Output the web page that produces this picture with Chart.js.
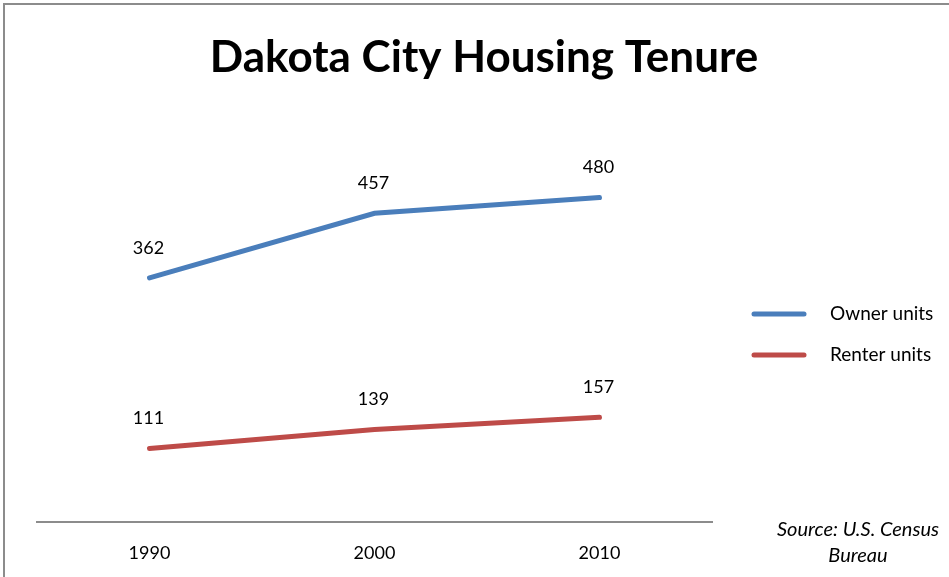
<!DOCTYPE html>
<html>
<head>
<meta charset="utf-8">
<script src="https://cdn.jsdelivr.net/npm/chart.js@4/dist/chart.umd.min.js"></script>
<style>
  html, body { margin: 0; padding: 0; background: #fff; }
  #wrap { width: 949px; height: 577px; position: relative; }
</style>
</head>
<body>
<div id="wrap"><canvas id="fig_container" width="949" height="577"></canvas></div>
<script>
const years = ["1990", "2000", "2010"];
const owner_units = [362, 457, 480];
const renter_units = [111, 139, 157];
const series_names = ["Owner units", "Renter units"];
const title_text = "Dakota City Housing Tenure";
const source_lines = ["Source: U.S. Census", "Bureau"];

const FONT = "Lato, 'Open Sans', sans-serif";

// frame + title + source note
const decor = {
    id: 'decor',
    beforeDraw: (chart) => {
        const ctx = chart.ctx;
        ctx.save();
        ctx.fillStyle = '#fff';
        ctx.fillRect(0, 0, chart.width, chart.height);
        ctx.strokeStyle = '#8c8c8c';
        ctx.lineWidth = 2;
        ctx.beginPath();
        ctx.moveTo(4, chart.height);
        ctx.lineTo(4, 4);
        ctx.lineTo(chart.width, 4);
        ctx.stroke();
        ctx.restore();
    },
    afterDraw: (chart) => {
        const ctx = chart.ctx;
        ctx.save();
        ctx.fillStyle = '#000';
        ctx.textAlign = 'center';
        ctx.textBaseline = 'middle';
        ctx.font = "bold 44px " + FONT;
        ctx.fillText(title_text, 484, 58);
        ctx.font = "italic 20px " + FONT;
        ctx.fillText(source_lines[0], 858, 530);
        ctx.fillText(source_lines[1], 858, 556);
        ctx.restore();
    }
};

// value labels above each point
const valueLabels = {
    id: 'valueLabels',
    afterDatasetsDraw: (chart) => {
        const ctx = chart.ctx;
        ctx.save();
        ctx.fillStyle = '#000';
        ctx.font = "18px " + FONT;
        ctx.textAlign = 'center';
        ctx.textBaseline = 'middle';
        chart.data.datasets.forEach((ds, i) => {
            chart.getDatasetMeta(i).data.forEach((pt, j) => {
                ctx.fillText(String(ds.data[j]), pt.x - 1, pt.y - 30);
            });
        });
        ctx.restore();
    }
};

// legend on the right, line swatches
const sideLegend = {
    id: 'sideLegend',
    afterDraw: (chart) => {
        const ctx = chart.ctx;
        ctx.save();
        ctx.font = "19px " + FONT;
        ctx.textBaseline = 'middle';
        ctx.textAlign = 'left';
        chart.data.datasets.forEach((ds, i) => {
            const y = 314 + i * 41;
            ctx.strokeStyle = ds.borderColor;
            ctx.lineWidth = 5;
            ctx.lineCap = 'round';
            ctx.beginPath();
            ctx.moveTo(754, y);
            ctx.lineTo(804, y);
            ctx.stroke();
            ctx.fillStyle = '#000';
            ctx.fillText(ds.label, 830, y);
        });
        ctx.restore();
    }
};

const ctx = document.getElementById('fig_container').getContext('2d');
const LineChart = new Chart(ctx, {
    type: 'line',
    data: {
        labels: years,
        datasets: [{
            label: series_names[0],
            data: owner_units,
            borderColor: '#4a7ebb',
            borderWidth: 5,
            pointRadius: 0,
            tension: 0,
            borderCapStyle: 'round'
        }, {
            label: series_names[1],
            data: renter_units,
            borderColor: '#be4b48',
            borderWidth: 5,
            pointRadius: 0,
            tension: 0,
            borderCapStyle: 'round'
        }]
    },
    options: {
        responsive: false,
        animation: false,
        layout: { padding: { left: 37, right: 237, top: 116, bottom: 0 } },
        plugins: {
            legend: { display: false },
            title: { display: false },
            tooltip: { enabled: false }
        },
        scales: {
            x: {
                offset: true,
                grid: { display: false, drawTicks: false },
                border: { display: true, color: '#8c8c8c', width: 2 },
                ticks: { color: '#000', font: { family: FONT, size: 18 }, padding: 20 },
                afterFit: (s) => { s.height = 55; }
            },
            y: {
                display: false,
                min: 3,
                max: 600
            }
        }
    },
    plugins: [decor, valueLabels, sideLegend]
});
</script>
</body>
</html>
